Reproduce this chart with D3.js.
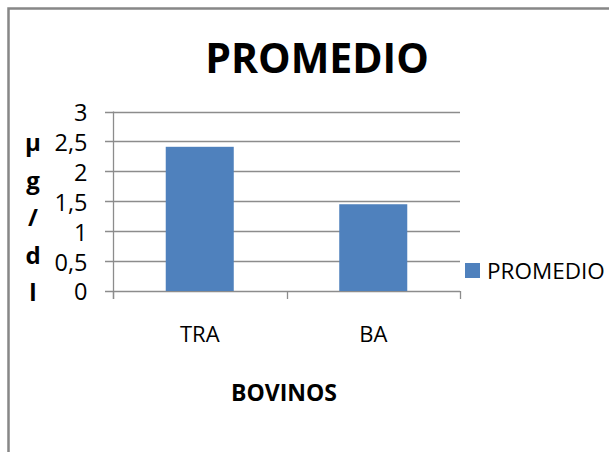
<!DOCTYPE html>
<html>
<head>
<meta charset="utf-8">
<script src="https://cdn.jsdelivr.net/npm/d3@7"></script>
<style>
  body { margin: 0; background: #fff; }
  text { font-family: "Open Sans", sans-serif; fill: #000; }
</style>
</head>
<body>
<div id="grafico"></div>
<script>
const categorias = ['TRA', 'BA']
const promedio = [2.41, 1.45]
const ticksY = [0, 0.5, 1, 1.5, 2, 2.5, 3]
const tituloY = ['µ', 'g', '/', 'd', 'l']

const width = 609
const height = 452
const plot = { left: 113, right: 460, top: 111.5, bottom: 291 }

const svg = d3.select('#grafico')
              .append('svg')
              .attr('width', width)
              .attr('height', height)

// marco del grafico (cortado a la derecha y abajo)
svg.append('rect')
   .attr('x', 8.5)
   .attr('y', 8.5)
   .attr('width', 640)
   .attr('height', 470)
   .attr('fill', 'none')
   .attr('stroke', '#878787')
   .attr('stroke-width', 2.5)

const x = d3.scaleBand()
            .domain(categorias)
            .range([plot.left, plot.right])
            .paddingInner(0.608)
            .paddingOuter(0.304)

const y = d3.scaleLinear()
            .domain([0, 3])
            .range([plot.bottom, plot.top])

// lineas de la cuadricula
svg.append('g')
   .selectAll('line')
   .data(ticksY)
   .enter()
   .append('line')
   .attr('x1', plot.left - 8)
   .attr('x2', plot.right)
   .attr('y1', d => Math.round(y(d)) + 0.5)
   .attr('y2', d => Math.round(y(d)) + 0.5)
   .attr('stroke', '#8c8c8c')
   .attr('stroke-width', 1.3)

// barras
svg.append('g')
   .selectAll('rect')
   .data(promedio)
   .enter()
   .append('rect')
   .attr('x', (d, i) => x(categorias[i]))
   .attr('y', d => y(d))
   .attr('width', x.bandwidth())
   .attr('height', d => y(0) - y(d))
   .attr('fill', '#4f81bd')

// eje Y
const ejeY = svg.append('g')
                .attr('transform', `translate(${plot.left + 0.5}, 0)`)
                .call(d3.axisLeft(y)
                        .tickValues(ticksY)
                        .tickSize(8)
                        .tickPadding(18)
                        .tickFormat(d => String(d).replace('.', ',')))

ejeY.select('.domain').remove()
ejeY.selectAll('line').remove()
ejeY.selectAll('text')
    .attr('font-size', 23.5)
    .attr('font-family', null)
    .attr('dy', '0.38em')

svg.append('line')
   .attr('x1', plot.left + 0.5)
   .attr('x2', plot.left + 0.5)
   .attr('y1', plot.top)
   .attr('y2', plot.bottom + 8)
   .attr('stroke', '#8c8c8c')
   .attr('stroke-width', 1.3)

// eje X: marcas entre categorias
const bordes = [plot.left, ...categorias.map(c => x(c) + x.bandwidth() / 2 + x.step() / 2)]
svg.append('g')
   .selectAll('line')
   .data(bordes)
   .enter()
   .append('line')
   .attr('x1', d => Math.round(d) + 0.5)
   .attr('x2', d => Math.round(d) + 0.5)
   .attr('y1', plot.bottom)
   .attr('y2', plot.bottom + 8)
   .attr('stroke', '#8c8c8c')
   .attr('stroke-width', 1.3)

svg.append('g')
   .selectAll('text')
   .data(categorias)
   .enter()
   .append('text')
   .attr('x', d => x(d) + x.bandwidth() / 2)
   .attr('y', 342)
   .attr('text-anchor', 'middle')
   .attr('font-size', 22)
   .text(d => d)

// titulos
svg.append('text')
   .attr('x', 317)
   .attr('y', 73)
   .attr('text-anchor', 'middle')
   .attr('font-size', 41)
   .attr('font-weight', 'bold')
   .text('PROMEDIO')

svg.append('text')
   .attr('x', 284)
   .attr('y', 401)
   .attr('text-anchor', 'middle')
   .attr('font-size', 23)
   .attr('font-weight', 'bold')
   .text('BOVINOS')

svg.append('g')
   .selectAll('text')
   .data(tituloY)
   .enter()
   .append('text')
   .attr('x', 33)
   .attr('y', (d, i) => 151 + i * 37.5)
   .attr('text-anchor', 'middle')
   .attr('font-size', 24)
   .attr('font-weight', 'bold')
   .text(d => d)

// leyenda
const leyenda = svg.append('g')
                   .attr('transform', 'translate(465, 263)')

leyenda.append('rect')
       .attr('width', 15)
       .attr('height', 15)
       .attr('fill', '#4f81bd')

leyenda.append('text')
       .attr('x', 22)
       .attr('y', 15.5)
       .attr('font-size', 22.5)
       .text('PROMEDIO')
</script>
</body>
</html>
